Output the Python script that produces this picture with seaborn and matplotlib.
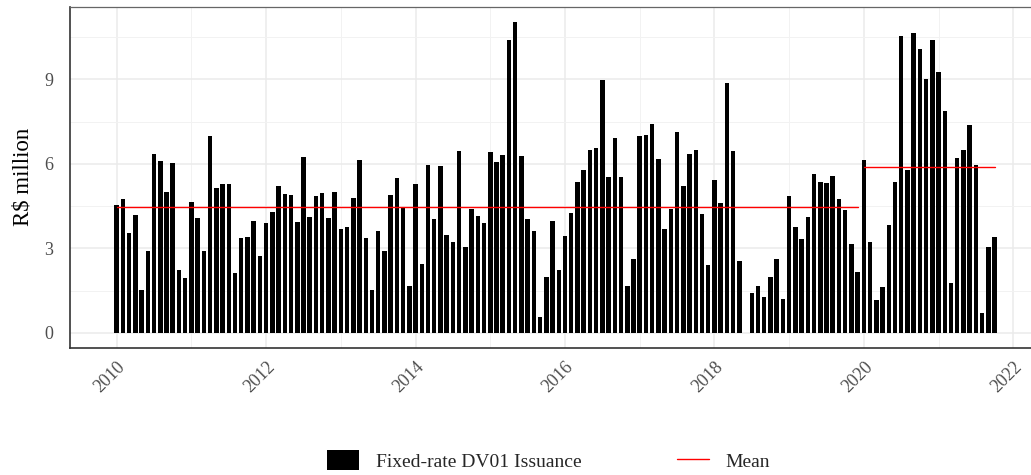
import numpy as np
import pandas as pd
import matplotlib
matplotlib.use("Agg")
import matplotlib.pyplot as plt
import seaborn as sns
from matplotlib.patches import Patch
from matplotlib.lines import Line2D
from matplotlib.ticker import FixedLocator

# ---------------- data ----------------
start_month = "2010-01"
issuance = [
    # 2010
    4.54, 4.74, 3.53, 4.17, 1.52, 2.91, 6.36, 6.10, 5.00, 6.02, 2.23, 1.93,
    # 2011
    4.66, 4.09, 2.91, 6.98, 5.14, 5.27, 5.27, 2.12, 3.36, 3.40, 3.98, 2.73,
    # 2012
    3.90, 4.28, 5.22, 4.93, 4.88, 3.95, 6.24, 4.12, 4.85, 4.96, 4.09, 5.00,
    # 2013
    3.67, 3.74, 4.77, 6.13, 3.36, 1.52, 3.60, 2.91, 4.88, 5.49, 4.44, 1.67,
    # 2014
    5.27, 2.46, 5.95, 4.05, 5.91, 3.48, 3.21, 6.47, 3.03, 4.40, 4.16, 3.90,
    # 2015
    6.43, 6.05, 6.32, 10.38, 11.02, 6.28, 4.05, 3.60, 0.56, 1.97, 3.98, 2.23,
    # 2016
    3.45, 4.24, 5.34, 5.79, 6.50, 6.55, 8.98, 5.52, 6.90, 5.52, 1.67, 2.62,
    # 2017
    6.98, 7.01, 7.42, 6.17, 3.67, 4.40, 7.12, 5.22, 6.36, 6.50, 4.21, 2.39,
    # 2018
    5.41, 4.62, 8.86, 6.47, 2.54, np.nan, 1.43, 1.67, 1.26, 1.97, 2.62, 1.21,
    # 2019
    4.85, 3.74, 3.33, 4.12, 5.64, 5.37, 5.33, 5.56, 4.76, 4.35, 3.14, 2.16,
    # 2020
    6.13, 3.21, 1.17, 1.62, 3.82, 5.37, 10.53, 5.79, 10.64, 10.07, 9.00, 10.38,
    # 2021
    9.25, 7.88, 1.78, 6.21, 6.50, 7.38, 5.96, 0.71, 3.03, 3.40,
]
mean_periods = [("2010-01", "2019-12"), ("2020-01", "2021-10")]
mean_values = [4.45, 5.90]
y_ticks = [0, 3, 6, 9]
x_ticks = [2010, 2012, 2014, 2016, 2018, 2020, 2022]
series_label = "Fixed-rate DV01 Issuance"
mean_label = "Mean"
y_label = "R$ million"


def dec_year(p):
    return p.year + (p.month - 1) / 12.0


months = pd.period_range(start_month, periods=len(issuance), freq="M")
bars = pd.DataFrame({"t": [dec_year(p) for p in months], "v": issuance}).dropna()

rows = []
for g, ((a, b), m) in enumerate(zip(mean_periods, mean_values)):
    for p in (pd.Period(a, "M"), pd.Period(b, "M")):
        rows.append({"t": dec_year(p), "v": m, "g": g})
means = pd.DataFrame(rows)

# ---------------- style ----------------
sns.set_style("white")
plt.rcParams["font.family"] = ["Liberation Serif", "DejaVu Serif"]

fig = plt.figure(figsize=(10.31, 4.75), dpi=100)
ax = fig.add_axes([0.0679, 0.268, 0.9321, 0.7173])

sns.barplot(data=bars, x="t", y="v", native_scale=True, color="black",
            saturation=1, width=0.72, errorbar=None, edgecolor="none",
            linewidth=0, ax=ax)
sns.lineplot(data=means, x="t", y="v", units="g", estimator=None,
             color="#FF0000", linewidth=1.0, ax=ax, legend=False)

ax.set_xlim(2009.375, 2022.237)
ax.set_ylim(-0.53, 11.57)
ax.xaxis.set_major_locator(FixedLocator(x_ticks))
ax.xaxis.set_minor_locator(FixedLocator([x + 1 for x in x_ticks[:-1]]))
ax.yaxis.set_major_locator(FixedLocator(y_ticks))
ax.yaxis.set_minor_locator(FixedLocator([1.5, 4.5, 7.5, 10.5]))
ax.set_xticklabels([str(x) for x in x_ticks], rotation=45, ha="right",
                   va="top", rotation_mode="anchor")
ax.set_yticklabels([str(y) for y in y_ticks])

ax.grid(True, which="major", color="#EBEBEB", linewidth=1.1)
ax.grid(True, which="minor", color="#F2F2F2", linewidth=0.7)
ax.set_axisbelow(True)

ax.tick_params(axis="both", which="major", length=4, width=0.9,
               color="#333333", labelsize=13, labelcolor="#4D4D4D")
ax.tick_params(axis="y", which="major", pad=8)
ax.tick_params(axis="x", which="major", pad=4)
ax.tick_params(axis="both", which="minor", length=0)

for side in ["left", "bottom"]:
    ax.spines[side].set_color("#333333")
    ax.spines[side].set_linewidth(1.2)
ax.spines["top"].set_color("#666666")
ax.spines["top"].set_linewidth(0.9)
ax.spines["right"].set_visible(False)

ax.set_xlabel("")
ax.set_ylabel(y_label, fontsize=16.5, color="black", labelpad=8)

handles = [Patch(facecolor="black", edgecolor="none"),
           Line2D([], [], color="#FF0000", linewidth=1.0)]
fig.legend(handles, [series_label, mean_label], loc="center",
           bbox_to_anchor=(0.532, 0.03), ncol=2, frameon=False,
           fontsize=14, handlelength=1.65, handleheight=1.2,
           columnspacing=4.9, handletextpad=0.85)

fig.savefig("out.png", dpi=100)
